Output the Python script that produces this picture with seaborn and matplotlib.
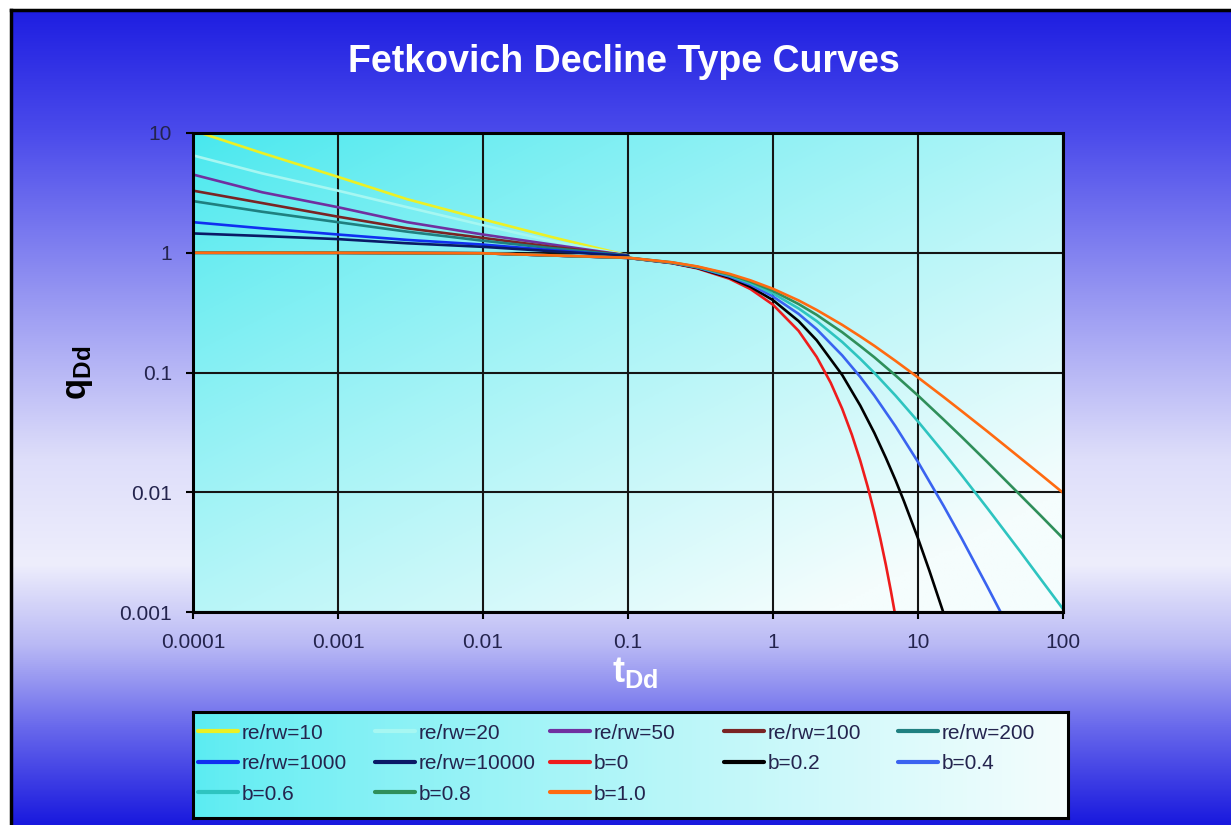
import numpy as np
import pandas as pd
import seaborn as sns
import matplotlib.pyplot as plt
from matplotlib.lines import Line2D
from matplotlib.legend import Legend
from matplotlib.ticker import NullLocator

# transient stems (re/rw)
t_transient = [0.0001, 0.0003, 0.001, 0.003, 0.01, 0.03, 0.1]
q_re10 = [10.5, 6.8, 4.3, 2.8, 1.9, 1.35, 0.95]
q_re20 = [6.5, 4.6, 3.3, 2.4, 1.7, 1.25, 0.95]
q_re50 = [4.5, 3.2, 2.4, 1.8, 1.42, 1.17, 0.95]
q_re100 = [3.3, 2.6, 2.0, 1.6, 1.33, 1.12, 0.95]
q_re200 = [2.7, 2.2, 1.8, 1.5, 1.26, 1.09, 0.95]
q_re1000 = [1.8, 1.6, 1.42, 1.28, 1.17, 1.05, 0.94]
q_re10000 = [1.45, 1.38, 1.3, 1.2, 1.12, 1.03, 0.94]

# depletion stems (b values)
t_b0 = [0.0001, 0.001, 0.01, 0.1, 0.2, 0.3, 0.5, 0.7, 1, 1.5, 2, 2.5, 3, 3.5,
        4, 4.5, 5, 5.5, 6, 6.5, 7]
q_b0 = [1.0, 0.999, 0.990, 0.905, 0.819, 0.741, 0.607, 0.497, 0.368, 0.223,
        0.135, 0.0821, 0.0498, 0.0302, 0.0183, 0.0111, 0.00674, 0.00409,
        0.00248, 0.0015, 0.00091]
t_b02 = [0.0001, 0.001, 0.01, 0.1, 0.2, 0.3, 0.5, 0.7, 1, 1.5, 2, 3, 4, 5, 6,
         7, 8, 10, 12, 15]
q_b02 = [1.0, 0.999, 0.990, 0.906, 0.822, 0.747, 0.621, 0.519, 0.402, 0.269,
         0.186, 0.0954, 0.0529, 0.0313, 0.0194, 0.0126, 0.00842, 0.00412,
         0.0022, 0.00098]
t_b04 = [0.0001, 0.001, 0.01, 0.1, 0.2, 0.3, 0.5, 0.7, 1, 1.5, 2, 3, 4, 5, 7,
         10, 15, 20, 30, 40]
q_b04 = [1.0, 0.999, 0.990, 0.906, 0.825, 0.753, 0.634, 0.540, 0.431, 0.309,
         0.230, 0.139, 0.0918, 0.0642, 0.0355, 0.0179, 0.00771, 0.00412,
         0.00164, 0.00084]
t_b = [0.0001, 0.001, 0.01, 0.1, 0.2, 0.3, 0.5, 0.7, 1, 1.5, 2, 3, 4, 5, 7,
       10, 15, 20, 30, 50, 70, 100]
q_b06 = [1.0, 0.999, 0.990, 0.907, 0.828, 0.759, 0.646, 0.557, 0.457, 0.343,
         0.269, 0.180, 0.130, 0.0992, 0.0641, 0.0390, 0.0215, 0.0139, 0.00739,
         0.00327, 0.00189, 0.00106]
q_b08 = [1.0, 0.999, 0.990, 0.908, 0.831, 0.764, 0.657, 0.573, 0.480, 0.373,
         0.303, 0.217, 0.166, 0.134, 0.0945, 0.0642, 0.0405, 0.0290, 0.0179,
         0.00963, 0.00640, 0.00412]
q_b10 = [1.0, 0.999, 0.990, 0.909, 0.833, 0.769, 0.667, 0.588, 0.500, 0.400,
         0.333, 0.250, 0.200, 0.167, 0.125, 0.0909, 0.0625, 0.0476, 0.0323,
         0.0196, 0.0141, 0.0099]

labels = ['re/rw=10', 're/rw=20', 're/rw=50', 're/rw=100', 're/rw=200',
          're/rw=1000', 're/rw=10000', 'b=0', 'b=0.2', 'b=0.4',
          'b=0.6', 'b=0.8', 'b=1.0']
colors = ['#ECF025', '#A6F7F2', '#7030A0', '#7A2424', '#1F8080',
          '#1030F0', '#0A1A66', '#EE1C1C', '#000000', '#3A63F0',
          '#2EC4C0', '#2F8F5A', '#FF6A10']
curves = [(t_transient, q_re10), (t_transient, q_re20), (t_transient, q_re50),
          (t_transient, q_re100), (t_transient, q_re200),
          (t_transient, q_re1000), (t_transient, q_re10000),
          (t_b0, q_b0), (t_b02, q_b02), (t_b04, q_b04),
          (t_b, q_b06), (t_b, q_b08), (t_b, q_b10)]

rows = []
for lab, (tt, qq) in zip(labels, curves):
    for t, q in zip(tt, qq):
        rows.append((lab, t, q))
df = pd.DataFrame(rows, columns=['curve', 't', 'q'])

sns.set_theme(style='white')
plt.rcParams['font.family'] = ['Liberation Sans', 'DejaVu Sans']
plt.rcParams['mathtext.fontset'] = 'custom'
plt.rcParams['mathtext.rm'] = 'Liberation Sans'
plt.rcParams['mathtext.bf'] = 'Liberation Sans:bold'

W, H = 1231, 825
fig = plt.figure(figsize=(W / 100, H / 100), dpi=100)
fig.patch.set_facecolor('white')

# blue -> white -> blue page background
bg = fig.add_axes([11 / W, 0, 1 - 11 / W, 815 / H])
stops_y = [0.0, 0.15, 0.35, 0.55, 0.68, 0.78, 0.88, 1.0]
stops_c = [(30, 30, 225), (75, 75, 235), (150, 150, 242), (222, 222, 250),
           (238, 238, 252), (185, 185, 245), (105, 105, 236), (25, 25, 222)]
yy = np.linspace(0, 1, 400)
grad = np.stack([np.interp(yy, stops_y, [c[i] for c in stops_c]) for i in range(3)], axis=-1)
bg.imshow(grad[:, None, :] / 255.0, aspect='auto', extent=[0, 1, 0, 1])
bg.set_xticks([])
bg.set_yticks([])
for side in ['right', 'bottom']:
    bg.spines[side].set_visible(False)
for side in ['top', 'left']:
    bg.spines[side].set_color('black')
    bg.spines[side].set_linewidth(2.5)

# plot area
pos = [193 / W, 1 - 612 / H, 870 / W, 479 / H]
pbg = fig.add_axes(pos)
u = np.linspace(0, 1, 200)
uu, vv = np.meshgrid(u, u)
s = np.clip(0.55 * uu + 0.6 * vv, 0, 1) ** 0.85
c0 = np.array([70, 232, 238]) / 255.0
c1 = np.array([245, 253, 253]) / 255.0
img = c0[None, None, :] + (c1 - c0)[None, None, :] * s[:, :, None]
pbg.imshow(img, aspect='auto', extent=[0, 1, 0, 1])
pbg.axis('off')

ax = fig.add_axes(pos)
ax.set_facecolor('none')
ax.set_xscale('log')
ax.set_yscale('log')
sns.lineplot(data=df, x='t', y='q', hue='curve', hue_order=labels,
             palette=dict(zip(labels, colors)), estimator=None, sort=False,
             linewidth=1.9, legend=False, ax=ax)
ax.set_xlim(1e-4, 100)
ax.set_ylim(1e-3, 10)
xt = [1e-4, 1e-3, 1e-2, 1e-1, 1, 10, 100]
yt = [1e-3, 1e-2, 1e-1, 1, 10]
ax.set_xticks(xt)
ax.set_xticklabels(['0.0001', '0.001', '0.01', '0.1', '1', '10', '100'])
ax.set_yticks(yt)
ax.set_yticklabels(['0.001', '0.01', '0.1', '1', '10'])
ax.xaxis.set_minor_locator(NullLocator())
ax.yaxis.set_minor_locator(NullLocator())
ax.grid(True, which='major', color='#151515', linewidth=1.5)
ax.tick_params(bottom=True, left=True, direction='out', length=5, width=1.5,
               color='black', labelsize=15, labelcolor='#24244E', pad=10)
for sp in ax.spines.values():
    sp.set_color('black')
    sp.set_linewidth(2.2)
ax.set_xlabel(r'$\mathbf{t_{Dd}}$', color='white', fontsize=26)
ax.xaxis.set_label_coords(0.508, -0.09)
ax.set_ylabel(r'$\mathbf{q_{Dd}}$', color='black', fontsize=25)
ax.yaxis.set_label_coords(-0.113, 0.5)

fig.text(624 / W, 1 - 62 / H, 'Fetkovich Decline Type Curves', ha='center',
         va='center', color='white', fontsize=27, fontweight='bold')

# legend box
lax = fig.add_axes([193 / W, 1 - 818 / H, 875 / W, 106 / H])
lg = np.linspace(0, 1, 200) ** 0.8
limg = np.array([90, 236, 242])[None, :] / 255.0 + \
    (np.array([244, 253, 253]) - np.array([90, 236, 242]))[None, :] / 255.0 * lg[:, None]
lax.imshow(limg[None, :, :], aspect='auto', extent=[0, 1, 0, 1])
lax.set_xticks([])
lax.set_yticks([])
for sp in lax.spines.values():
    sp.set_color('black')
    sp.set_linewidth(2.2)

handles = [Line2D([], [], color=c, linewidth=3) for c in colors]
col_x = [0.006, 0.208, 0.408, 0.607, 0.806]
for j, x0 in enumerate(col_x):
    idx = list(range(j, len(labels), 5))
    leg = Legend(lax, [handles[i] for i in idx], [labels[i] for i in idx],
                 loc='upper left', bbox_to_anchor=(x0, 0.89), frameon=False,
                 fontsize=15, handlelength=1.9, handletextpad=0.2,
                 labelspacing=0.55, borderpad=0, borderaxespad=0,
                 labelcolor='#24244E')
    lax.add_artist(leg)

fig.savefig('out.png', dpi=100)
